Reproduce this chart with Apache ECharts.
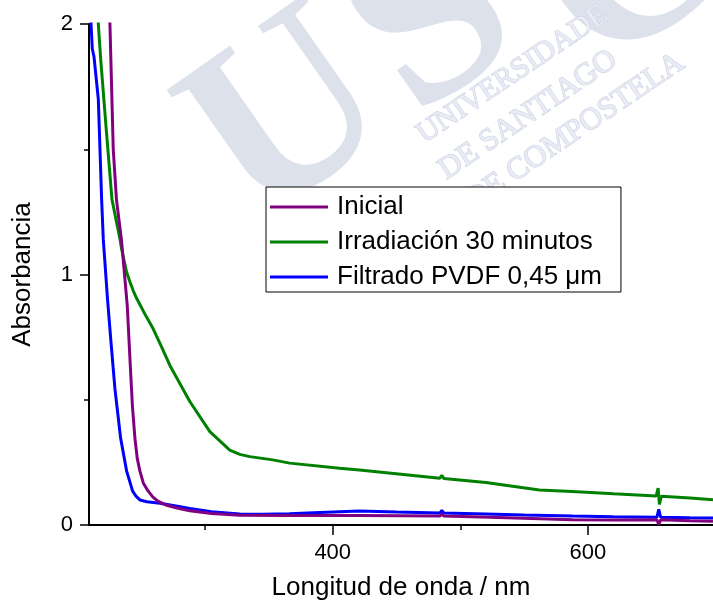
<!DOCTYPE html>
<html>
<head>
<meta charset="utf-8">
<script src="https://cdn.jsdelivr.net/npm/echarts@6/dist/echarts.min.js"></script>
<style>
html,body{margin:0;padding:0;background:#fff;}
#chart{width:713px;height:606px;}
</style>
</head>
<body>
<div id="chart"></div>
<script>
// ---- Data (wavelength in nm, absorbance) ----
const seriesNames = ['Inicial', 'Irradiación 30 minutos', 'Filtrado PVDF 0,45 μm'];

const inicialNm  = [224.5, 225.4, 228.0, 230.5, 234.4, 239.0, 241.6, 243.0, 245.0, 246.8, 248.9, 251.6, 255.4, 259.1, 263.0, 269.2, 277.9, 288.0, 305.0, 327.0, 366.0, 421.0, 484.0, 485.5, 487.0, 530.0, 588.0, 620.0, 654.0, 655.5, 657.0, 680.0, 698.0];
const inicialAbs = [2.10, 2.00, 1.50, 1.30, 1.14, 0.875, 0.612, 0.477, 0.346, 0.266, 0.215, 0.167, 0.135, 0.111, 0.095, 0.080, 0.068, 0.057, 0.046, 0.039, 0.038, 0.038, 0.036, 0.044, 0.036, 0.030, 0.021, 0.020, 0.021, 0.002, 0.021, 0.017, 0.015];

const irradNm  = [215.8, 216.3, 218.2, 222.7, 227.0, 233.3, 234.6, 238.5, 241.1, 243.7, 246.3, 248.9, 253.0, 259.3, 265.5, 272.4, 288.0, 303.7, 319.3, 327.2, 335.0, 353.0, 366.3, 405.4, 421.0, 484.0, 485.5, 487.0, 520.0, 561.9, 587.7, 620.0, 653.5, 655.0, 656.0, 657.5, 680.0, 698.0];
const irradAbs = [2.10, 2.00, 1.857, 1.567, 1.300, 1.141, 1.101, 1.009, 0.970, 0.935, 0.905, 0.880, 0.840, 0.783, 0.715, 0.637, 0.493, 0.373, 0.299, 0.282, 0.273, 0.260, 0.247, 0.227, 0.220, 0.187, 0.198, 0.186, 0.170, 0.140, 0.134, 0.125, 0.116, 0.147, 0.082, 0.115, 0.108, 0.101];

const filtNm  = [210.0, 210.6, 211.6, 212.9, 216.3, 218.9, 220.2, 223.5, 226.0, 229.3, 233.8, 238.5, 243.2, 245.8, 248.9, 254.4, 264.6, 275.0, 288.0, 305.0, 327.0, 345.0, 366.0, 390.0, 421.0, 450.0, 484.0, 485.5, 487.0, 520.0, 550.0, 588.0, 620.0, 654.0, 655.5, 657.0, 680.0, 698.0];
const filtAbs = [2.10, 2.00, 1.90, 1.87, 1.70, 1.30, 1.14, 0.903, 0.744, 0.545, 0.346, 0.215, 0.135, 0.115, 0.100, 0.093, 0.087, 0.078, 0.066, 0.053, 0.044, 0.043, 0.045, 0.050, 0.056, 0.052, 0.048, 0.058, 0.048, 0.044, 0.040, 0.036, 0.033, 0.031, 0.062, 0.031, 0.029, 0.028];

const seriesColors = ['#800080', '#008000', '#0000ff'];

const xMajorTicks = [400, 600];
const xMinorTicks = [300, 500];
const yTicks = [0, 1, 2];

function zip(a, b) { return a.map((v, i) => [v, b[i]]); }

const chart = echarts.init(document.getElementById('chart'), null, {renderer: 'canvas'});

const font = "'Liberation Sans', Arial, sans-serif";
const serif = "'Liberation Serif', serif";
const rot35 = 35 * Math.PI / 180;
const rot34 = 34 * Math.PI / 180;
const wmBig = {fontFamily: serif, fontWeight: 'bold', fontSize: 248, fill: '#dde1ec', align: 'left', verticalAlign: 'middle'};
const wmSmall = {fontFamily: serif, fill: '#e9ecf4', stroke: '#cdd2e3', lineWidth: 1.2, align: 'left', verticalAlign: 'middle'};

const option = {
  backgroundColor: '#ffffff',
  animation: false,
  graphic: [
    {type: 'text', x: 218, y: 174, rotation: rot35, z: -10, style: Object.assign({text: 'U'}, wmBig)},
    {type: 'text', x: 378, y: 66, rotation: rot35, z: -10, style: Object.assign({text: 'S'}, wmBig)},
    {type: 'text', x: 562, y: 22, rotation: rot35, z: -10, style: Object.assign({text: 'C'}, wmBig)},
    {type: 'text', x: 420, y: 137, rotation: rot34, z: -9, style: Object.assign({text: 'UNIVERSIDADE', fontSize: 30}, wmSmall)},
    {type: 'text', x: 442, y: 173, rotation: rot34, z: -9, style: Object.assign({text: 'DE SANTIAGO', fontSize: 31}, wmSmall)},
    {type: 'text', x: 469, y: 203, rotation: rot34, z: -9, style: Object.assign({text: 'DE COMPOSTELA', fontSize: 31}, wmSmall)}
  ],
  legend: {
    data: seriesNames,
    orient: 'vertical',
    left: 266,
    top: 187,
    padding: [5, 19, 0, 4],
    itemGap: 5,
    itemWidth: 58,
    itemHeight: 3,
    icon: 'rect',
    backgroundColor: '#ffffff',
    borderColor: '#000000',
    borderWidth: 1,
    borderRadius: 0,
    z: 10,
    textStyle: {fontSize: 26, fontFamily: font, color: '#000', lineHeight: 30, padding: [0, 0, 0, 4]}
  },
  grid: {left: 89, top: 24, right: 0, bottom: 79, containLabel: false},
  xAxis: [
    {
      type: 'value', min: 209, max: 698,
      name: 'Longitud de onda / nm', nameLocation: 'middle', nameGap: 50,
      nameTextStyle: {fontSize: 26, fontFamily: font, color: '#000'},
      axisLine: {show: true, onZero: false, lineStyle: {color: '#000', width: 2}},
      axisTick: {show: true, length: 10, customValues: xMajorTicks, lineStyle: {color: '#000', width: 1.5}},
      axisLabel: {show: true, customValues: xMajorTicks, margin: 17, fontSize: 22, fontFamily: font, color: '#000'},
      splitLine: {show: false}
    },
    {
      type: 'value', min: 209, max: 698, position: 'bottom',
      axisLine: {show: false},
      axisTick: {show: true, length: 5, customValues: xMinorTicks, lineStyle: {color: '#000', width: 1.5}},
      axisLabel: {show: false},
      splitLine: {show: false}
    }
  ],
  yAxis: {
    type: 'value', min: 0, max: 2, interval: 1,
    name: 'Absorbancia', nameLocation: 'middle', nameGap: 53,
    nameTextStyle: {fontSize: 26, fontFamily: font, color: '#000'},
    axisLine: {show: true, onZero: false, lineStyle: {color: '#000', width: 2}},
    axisTick: {show: true, length: 9, lineStyle: {color: '#000', width: 1.5}},
    minorTick: {show: true, splitNumber: 2, length: 5, lineStyle: {color: '#000', width: 1.5}},
    axisLabel: {margin: 16, fontSize: 22, fontFamily: font, color: '#000',
      customValues: yTicks},
    splitLine: {show: false},
    minorSplitLine: {show: false}
  },
  series: [
    {name: seriesNames[0], type: 'line', data: zip(inicialNm, inicialAbs), showSymbol: false, symbol: 'none',
     lineStyle: {color: seriesColors[0], width: 3}, itemStyle: {color: seriesColors[0]}, z: 5, clip: true},
    {name: seriesNames[1], type: 'line', data: zip(irradNm, irradAbs), showSymbol: false, symbol: 'none',
     lineStyle: {color: seriesColors[1], width: 3}, itemStyle: {color: seriesColors[1]}, z: 4, clip: true},
    {name: seriesNames[2], type: 'line', data: zip(filtNm, filtAbs), showSymbol: false, symbol: 'none',
     lineStyle: {color: seriesColors[2], width: 3}, itemStyle: {color: seriesColors[2]}, z: 3, clip: true}
  ]
};
chart.setOption(option);
</script>
</body>
</html>
